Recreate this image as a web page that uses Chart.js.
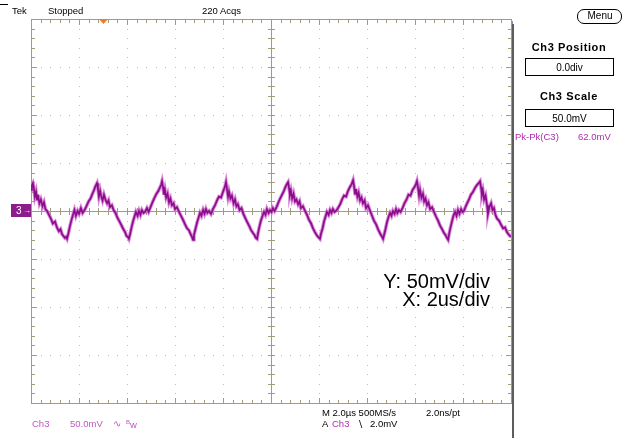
<!DOCTYPE html>
<html>
<head>
<meta charset="utf-8">
<script src="https://cdn.jsdelivr.net/npm/chart.js@4.4.1/dist/chart.umd.min.js"></script>
<style>
  body { margin: 0; background: #fff; }
  #scope { position: relative; width: 625px; height: 438px; overflow: hidden;
           font-family: "Liberation Sans", Arial, sans-serif; }
  #scope canvas { position: absolute; left: 0; top: 0; }
  .t { position: absolute; white-space: nowrap; line-height: 1; font-size: 9.5px; color: #000; }
  .mag { color: #b02cb0; }
  .pink { color: #c454c4; }
  .hdr { font-weight: bold; font-size: 11px; letter-spacing: 0.6px; width: 100px; text-align: center; }
  .box { position: absolute; border: 1px solid #000; background: #fff; }
  .box span { display: block; text-align: center; font-size: 10px; line-height: 1; margin-top: 4px; }
  .note { font-size: 20px; text-align: right; width: 200px; }
</style>
</head>
<body>
<div id="scope">
  <canvas id="myChart" width="625" height="438"></canvas>

  <!-- status line -->
  <div style="position:absolute;left:0;top:4px;width:8px;height:1px;background:#000"></div>
  <div class="t" style="left:12px;top:5.5px">Tek</div>
  <div class="t" style="left:48px;top:5.5px">Stopped</div>
  <div class="t" style="left:202px;top:5.5px">220 Acqs</div>

  <!-- right side menu -->
  <div style="position:absolute;left:577px;top:9px;width:43px;height:13px;border:1.5px solid #000;border-radius:7px"></div>
  <div class="t" style="left:577px;top:11px;width:46px;text-align:center;font-size:10px">Menu</div>
  <div style="position:absolute;left:512px;top:24px;width:2px;height:414px;background:#5c5c5c"></div>

  <div class="t hdr" style="left:519px;top:41.5px">Ch3 Position</div>
  <div class="box" style="left:525px;top:58px;width:87px;height:16px"><span>0.0div</span></div>
  <div class="t hdr" style="left:519px;top:91px">Ch3 Scale</div>
  <div class="box" style="left:525px;top:109px;width:87px;height:16px"><span>50.0mV</span></div>
  <div class="t mag" style="left:515px;top:132px">Pk-Pk(C3)</div>
  <div class="t mag" style="left:578px;top:132px">62.0mV</div>

  <!-- channel ground marker -->
  <div style="position:absolute;left:11px;top:204px;width:20px;height:13px;background:#8b1e8b"></div>
  <div class="t" style="left:16px;top:206px;color:#fff;font-size:10px">3</div>
  <div class="t" style="left:23px;top:206.5px;color:#fff;font-size:8px">&#8594;</div>

  <!-- readouts -->
  <div class="t pink" style="left:32px;top:419px">Ch3</div>
  <div class="t pink" style="left:70px;top:419px">50.0mV</div>
  <div class="t pink" style="left:113px;top:419px">&#8767;</div>
  <div class="t pink" style="left:126px;top:419px"><sup style="font-size:6px">B</sup>w</div>
  <div class="t" style="left:322px;top:408px">M 2.0&#181;s 500MS/s</div>
  <div class="t" style="left:426px;top:408px">2.0ns/pt</div>
  <div class="t" style="left:322px;top:419px">A</div>
  <div class="t mag" style="left:332px;top:419px">Ch3</div>
  <div class="t" style="left:357px;top:419px">&#8726;</div>
  <div class="t" style="left:370px;top:419px">2.0mV</div>

  <div class="t note" style="left:290px;top:270.5px">Y: 50mV/div</div>
  <div class="t note" style="left:290px;top:289px">X: 2us/div</div>
</div>

<script>
// screen divisions: 2 us/div horizontally, 50 mV/div vertically
const timeTicks = [-10, -8, -6, -4, -2, 0, 2, 4, 6, 8, 10];
const voltTicks = [-200, -150, -100, -50, 0, 50, 100, 150, 200];

// Ch3 trace, time in us, one row per ripple cycle
const timeUs = [
  -10.00, -9.96, -9.92, -9.88, -9.84, -9.79, -9.75, -9.71, -9.65, -9.59, -9.52, -9.46, -9.40, -9.33, -9.25, -9.17, -9.09, -9.00, -8.92, -8.84, -8.77, -8.71, -8.65, -8.59, -8.54, -8.50, -8.44, -8.38, -8.32, -8.25, -8.19, -8.13, -8.06, -8.00, -7.92, -7.85, -7.77, -7.69, -7.60, -7.52, -7.44, -7.37, -7.31,
  -7.25, -7.21, -7.17, -7.12, -7.08, -7.02, -6.96, -6.90, -6.83, -6.77, -6.71, -6.63, -6.56, -6.48, -6.40, -6.31, -6.23, -6.15, -6.08, -6.02, -5.96, -5.92, -5.87, -5.81, -5.75, -5.69, -5.63, -5.56, -5.50, -5.44, -5.38, -5.31, -5.25, -5.17, -5.10, -5.02, -4.94, -4.85, -4.77, -4.69, -4.62, -4.58,
  -4.54, -4.50, -4.46, -4.42, -4.37, -4.31, -4.25, -4.19, -4.13, -4.06, -4.00, -3.92, -3.83, -3.75, -3.67, -3.58, -3.50, -3.42, -3.35, -3.29, -3.25, -3.21, -3.15, -3.08, -3.02, -2.96, -2.90, -2.83, -2.77, -2.71, -2.65, -2.58, -2.50, -2.42, -2.33, -2.25, -2.17, -2.08, -2.00, -1.94, -1.90,
  -1.875, -1.83, -1.79, -1.75, -1.69, -1.63, -1.56, -1.50, -1.44, -1.38, -1.31, -1.23, -1.15, -1.06, -0.98, -0.90, -0.83, -0.75, -0.69, -0.63, -0.58, -0.54, -0.48, -0.42, -0.35, -0.29, -0.23, -0.17, -0.10, -0.04, 0.02, 0.08, 0.15, 0.23, 0.31, 0.38, 0.46, 0.54, 0.60, 0.66,
  0.71, 0.75, 0.79, 0.83, 0.88, 0.94, 1.00, 1.06, 1.13, 1.19, 1.25, 1.33, 1.42, 1.50, 1.58, 1.67, 1.75, 1.83, 1.90, 1.96, 2.04, 2.08, 2.15, 2.21, 2.27, 2.33, 2.40, 2.46, 2.52, 2.58, 2.65, 2.71, 2.79, 2.88, 2.96, 3.04, 3.13, 3.21, 3.29, 3.36,
  3.42, 3.46, 3.50, 3.54, 3.60, 3.65, 3.71, 3.77, 3.83, 3.90, 3.96, 4.04, 4.13, 4.21, 4.29, 4.38, 4.46, 4.52, 4.58, 4.63, 4.67, 4.71, 4.77, 4.83, 4.90, 4.96, 5.02, 5.08, 5.15, 5.21, 5.27, 5.33, 5.40, 5.48, 5.56, 5.65, 5.73, 5.81, 5.90, 5.98, 6.04,
  6.08, 6.12, 6.17, 6.21, 6.27, 6.33, 6.38, 6.44, 6.50, 6.56, 6.63, 6.71, 6.79, 6.88, 6.96, 7.04, 7.13, 7.21, 7.27, 7.33, 7.38, 7.42, 7.48, 7.54, 7.60, 7.67, 7.73, 7.79, 7.85, 7.92, 7.98, 8.04, 8.10, 8.17, 8.25, 8.33, 8.42, 8.50, 8.58, 8.65,
  8.71, 8.75, 8.79, 8.83, 8.88, 8.94, 9.00, 9.04, 9.10, 9.17, 9.23, 9.29, 9.35, 9.42, 9.50, 9.58, 9.67, 9.75, 9.83, 9.92, 10.00
];

// Ch3 voltage in mV, same rows as timeUs
const ch3mV = [
  22, 27, 29, 24, 15, 20, 12, 17, 8, 12, 5, 9, 2, 0, -4, -8, -13, -11, -17, -21, -19, -24, -26, -28, -27, -29, -23, -16, -10, -4, 1, -5, 0, -3, 3, -2, 1, 5, 10, 13, 18, 22, 26,
  29, 23, 15, 21, 16, 11, 17, 12, 8, 11, 4, 6, 1, -2, -7, -11, -15, -19, -22, -26, -27, -29, -24, -17, -11, -6, -1, -5, 0, -4, 1, -2, -1, 3, -1, 4, 9, 14, 18, 21, 25, 27,
  31, 25, 17, 22, 14, 18, 9, 13, 6, 8, 2, 4, -1, -5, -9, -14, -18, -20, -24, -27, -30, -25, -19, -12, -7, -2, -5, 1, -3, 2, -2, 0, -3, 2, 6, 11, 15, 14, 20, 24, 27,
  30, 22, 15, 20, 13, 16, 8, 12, 5, 7, 1, 3, -3, -8, -12, -16, -20, -23, -25, -28, -29, -23, -16, -10, -5, -1, -4, 2, -2, 1, -1, 3, 0, 4, 9, 13, 17, 21, 25, 28,
  30, 24, 17, 21, 13, 18, 10, 12, 7, 10, 3, 5, 0, -4, -9, -13, -18, -22, -25, -27, -29, -24, -18, -11, -6, -1, -4, 1, -2, 2, -1, 0, 3, 7, 12, 16, 15, 21, 25, 28,
  32, 26, 18, 23, 15, 19, 11, 14, 8, 11, 3, 6, 0, -5, -10, -14, -19, -22, -25, -27, -29, -25, -19, -12, -6, -2, -5, 0, -3, 2, -2, 1, -1, 3, 8, 12, 17, 16, 22, 25, 28,
  31, 25, 16, 22, 14, 18, 10, 13, 6, 9, 2, 4, -1, -6, -10, -15, -19, -23, -25, -28, -30, -24, -17, -11, -5, -1, -5, 1, -3, 2, -1, 0, 4, 8, 12, 17, 20, 24, 27, 29,
  31, 25, 17, 21, 12, 16, 6, -3, 4, 8, 1, 3, -4, -8, -10, -14, -18, -17, -22, -25, -27
];

const gridColor = '#a39b7c';
const dotColor = '#c2bda6';

// scope graticule: dotted divisions, solid centre cross, tick rulers on the frame
const graticule = {
  id: 'graticule',
  beforeDatasetsDraw(chart) {
    const { ctx, chartArea: a, scales: { x, y } } = chart;
    const minorX = (x.getPixelForValue(timeTicks[1]) - x.getPixelForValue(timeTicks[0])) / 5;
    const minorY = (y.getPixelForValue(voltTicks[0]) - y.getPixelForValue(voltTicks[1])) / 5;
    const cx = Math.round(x.getPixelForValue(0));
    const cy = Math.round(y.getPixelForValue(0));
    ctx.save();

    ctx.fillStyle = dotColor;
    timeTicks.slice(1, -1).forEach(t => {
      if (t === 0) return;
      const px = Math.round(x.getPixelForValue(t));
      for (let k = 1; k < 40; k++) ctx.fillRect(px, Math.round(a.top + k * minorY), 1, 1);
    });
    voltTicks.slice(1, -1).forEach(v => {
      if (v === 0) return;
      const py = Math.round(y.getPixelForValue(v));
      for (let k = 1; k < 50; k++) ctx.fillRect(Math.round(a.left + k * minorX), py, 1, 1);
    });

    ctx.fillStyle = gridColor;
    const L = Math.round(a.left), R = Math.round(a.right), T = Math.round(a.top), B = Math.round(a.bottom);
    // frame
    ctx.fillRect(L, T, R - L + 1, 1);
    ctx.fillRect(L, B, R - L + 1, 1);
    ctx.fillRect(L, T, 1, B - T + 1);
    ctx.fillRect(R, T, 1, B - T + 1);
    // centre cross
    ctx.fillRect(L, cy, R - L, 1);
    ctx.fillRect(cx, T, 1, B - T);

    // ticks along x
    for (let k = 1; k < 50; k++) {
      const px = Math.round(a.left + k * minorX);
      const len = k % 5 === 0 ? 6 : 4;
      ctx.fillRect(px, T, 1, len);
      ctx.fillRect(px, B - len + 1, 1, len);
      ctx.fillRect(px, cy - 3, 1, 7);
    }
    // ticks along y
    for (let k = 1; k < 40; k++) {
      const py = Math.round(a.top + k * minorY);
      const len = k % 5 === 0 ? 6 : 4;
      ctx.fillRect(L, py, len, 1);
      ctx.fillRect(R - len + 1, py, len, 1);
      ctx.fillRect(cx - 3, py, 7, 1);
    }
    ctx.restore();
  },
  afterDraw(chart) {
    const { ctx } = chart;
    // trigger position marker
    ctx.save();
    ctx.fillStyle = '#f07a2a';
    ctx.beginPath();
    ctx.moveTo(99, 19);
    ctx.lineTo(108, 19);
    ctx.lineTo(103.5, 24);
    ctx.closePath();
    ctx.fill();
    ctx.fillStyle = '#7d93b8';
    ctx.fillRect(512, 21, 1, 7);
    ctx.restore();
  }
};

const points = timeUs.map((t, i) => ({ x: t, y: ch3mV[i] }));

new Chart(document.getElementById('myChart'), {
  type: 'line',
  data: {
    datasets: [
      {
        // dark core of the trace, drawn on top
        label: 'Ch3',
        data: points,
        borderColor: '#8a0e8a',
        borderWidth: 1.7,
        pointRadius: 0,
        tension: 0
      },
      {
        // lighter persistence fringe behind it
        label: 'Ch3 glow',
        data: points,
        borderColor: 'rgba(212, 112, 212, 0.85)',
        borderWidth: 3.6,
        pointRadius: 0,
        tension: 0
      }
    ]
  },
  options: {
    responsive: false,
    animation: false,
    events: [],
    layout: { padding: { left: 31, right: 114, top: 19, bottom: 35 } },
    plugins: { legend: { display: false }, tooltip: { enabled: false } },
    scales: {
      x: { type: 'linear', min: timeTicks[0], max: timeTicks[timeTicks.length - 1], display: false },
      y: { type: 'linear', min: voltTicks[0], max: voltTicks[voltTicks.length - 1], display: false }
    }
  },
  plugins: [graticule]
});
</script>
</body>
</html>
